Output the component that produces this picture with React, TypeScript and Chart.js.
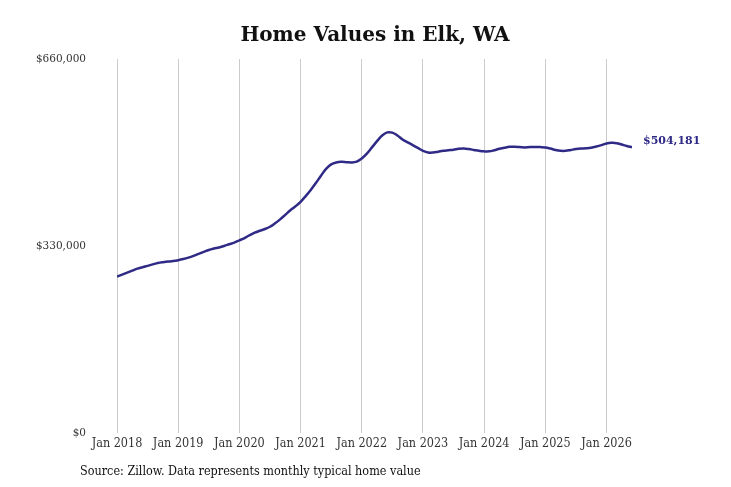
import React, { useEffect, useRef } from "react";
import { Chart, registerables } from "chart.js";

Chart.register(...registerables);

const startYear = 2018;
const tickYears = ["Jan 2018", "Jan 2019", "Jan 2020", "Jan 2021", "Jan 2022", "Jan 2023", "Jan 2024", "Jan 2025", "Jan 2026"];
const yTicks = [0, 330000, 660000];
const title = "Home Values in Elk, WA";
const source = "Source: Zillow. Data represents monthly typical home value";
const endLabel = "$504,181";

// monthly typical home value, Jan 2018 .. Jun 2026
const values = [
  276000, 279500, 283000, 286500, 290000, 292500, 295000, 297500, 300000, 301500, 302500, 303500,
  305000, 307000, 309500, 312500, 316000, 319500, 323000, 325500, 327500, 330000, 333000, 336000,
  340000, 344000, 349000, 353500, 357000, 360000, 364000, 370000, 377000, 385000, 393000, 400000,
  408000, 418000, 429000, 441000, 454000, 466000, 474000, 477500, 478500, 478000, 477500, 479000,
  484500, 493000, 504000, 515000, 525000, 530500, 530000, 525000, 518000, 513000, 508000, 503000,
  498000, 495000, 495000, 496500, 498000, 499000, 500000, 501500, 502000, 501000, 499500, 498000,
  497000, 497000, 499000, 501500, 503500, 505000, 505000, 504500, 504000, 504500, 504500, 504500,
  504000, 502000, 499500, 498000, 498000, 499500, 501000, 502000, 502500, 503500, 505500, 508000,
  511000, 512000, 511500, 509000, 506500, 504181,
];

const LINE = "#2f2a86";

export default function App() {
  const ref = useRef<HTMLCanvasElement | null>(null);
  useEffect(() => {
    document.body.style.margin = "0";
    const canvas = ref.current!;
    const points = values.map((v, i) => ({ x: i, y: v }));
    const textPlugin = {
      id: "texts",
      afterDraw(chart: any) {
        const ctx = chart.ctx;
        const area = chart.chartArea;
        ctx.save();
        ctx.fillStyle = "#111";
        ctx.font = "bold 20px 'DejaVu Serif'";
        ctx.textAlign = "center";
        ctx.textBaseline = "middle";
        ctx.fillText(title, 375, 36);
        ctx.font = "12.5px 'DejaVu Serif Condensed', 'DejaVu Serif'";
        ctx.textAlign = "left";
        ctx.fillText(source, 80, 472);
        const meta = chart.getDatasetMeta(0);
        const last = meta.data[meta.data.length - 1];
        ctx.fillStyle = LINE;
        ctx.font = "bold 11px 'DejaVu Serif'";
        ctx.fillText(endLabel, last.x + 11, 141);
        ctx.restore();
      },
    };
    const chart = new Chart(canvas, {
      type: "line",
      data: {
        datasets: [
          {
            data: points,
            borderColor: LINE,
            borderWidth: 2.5,
            pointRadius: 0,
            tension: 0.4,
            fill: false,
          },
        ],
      },
      options: {
        animation: false,
        responsive: false,
        devicePixelRatio: 1,
        layout: { padding: { top: 59, right: 99, bottom: 0, left: 0 } },
        plugins: { legend: { display: false }, tooltip: { enabled: false } },
        scales: {
          x: {
            type: "linear",
            min: 0,
            max: values.length - 1,
            afterBuildTicks: (scale: any) => {
              scale.ticks = tickYears.map((_, i) => ({ value: i * 12 }));
            },
            afterFit: (scale: any) => {
              scale.height = 54;
            },
            border: { display: false },
            grid: { color: "#cccccc", lineWidth: 1, drawTicks: false },
            ticks: {
              autoSkip: false,
              maxRotation: 0,
              padding: 3,
              color: "#333",
              font: { family: "'DejaVu Serif Condensed', 'DejaVu Serif'", size: 12.5 },
              callback: (v: any) => tickYears[Math.round(Number(v) / 12)] ?? "",
            },
          },
          y: {
            min: 0,
            max: 660000,
            afterBuildTicks: (scale: any) => {
              scale.ticks = yTicks.map((v) => ({ value: v }));
            },
            afterFit: (scale: any) => {
              scale.width = 117;
            },
            border: { display: false },
            grid: { display: false, drawTicks: false },
            ticks: {
              padding: 31,
              color: "#333",
              font: { family: "'DejaVu Serif'", size: 10.5 },
              callback: (v: any) => "$" + Number(v).toLocaleString("en-US"),
            },
          },
        },
      },
      plugins: [textPlugin],
    });
    return () => chart.destroy();
  }, []);
  return <canvas ref={ref} width={731} height={487} style={{ display: "block" }} />;
}
